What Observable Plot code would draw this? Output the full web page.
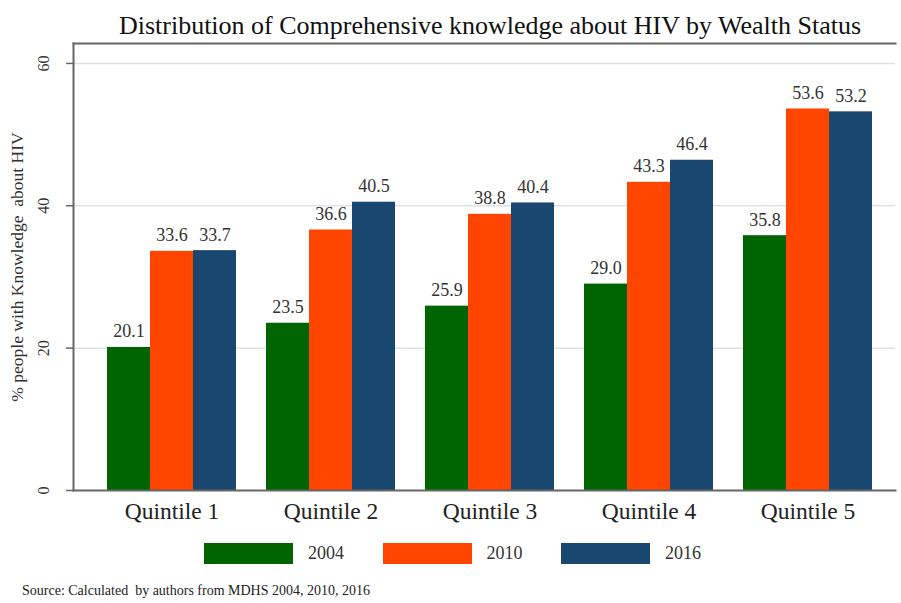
<!DOCTYPE html>
<html>
<head>
<meta charset="utf-8">
<script src="https://cdn.jsdelivr.net/npm/d3@7"></script>
<script src="https://cdn.jsdelivr.net/npm/@observablehq/plot@0.6"></script>
<style>
  html, body { margin: 0; padding: 0; background: #fff; }
  #wrap { position: relative; width: 901px; height: 603px; font-family: "Liberation Serif", "DejaVu Serif", serif; color: #111; overflow: hidden; }
  #chart { position: absolute; left: 0; top: 0; }
  #title { position: absolute; left: 79px; width: 822px; top: 13px; text-align: center; font-size: 26px; line-height: 1; white-space: nowrap; }
  #legend { position: absolute; left: 204px; top: 543px; display: flex; }
  .item { flex: 0 0 178.5px; display: flex; align-items: center; height: 21px; }
  .sw { width: 89px; height: 21px; margin-right: 15px; }
  .lab { font-size: 18px; color: #333; }
  #caption { position: absolute; left: 22px; top: 584px; font-size: 14px; line-height: 1; color: #222; white-space: nowrap; }
</style>
</head>
<body>
<div id="wrap">
  <div id="chart"></div>
  <div id="title">Distribution of Comprehensive knowledge about HIV by Wealth Status</div>
  <div id="legend"></div>
  <div id="caption">Source: Calculated&nbsp; by authors from MDHS 2004, 2010, 2016</div>
</div>
<script>
const quintiles = ["Quintile 1", "Quintile 2", "Quintile 3", "Quintile 4", "Quintile 5"];
const years = ["2004", "2010", "2016"];
const values2004 = [20.1, 23.5, 25.9, 29.0, 35.8];
const values2010 = [33.6, 36.6, 38.8, 43.3, 53.6];
const values2016 = [33.7, 40.5, 40.4, 46.4, 53.2];
const yTicks = [0, 20, 40, 60];
const colors = ["#006400", "#ff4500", "#1a476f"];

const series = [values2004, values2010, values2016];
const rows = years.flatMap((yr, j) => quintiles.map((q, i) => ({quintile: q, year: yr, value: series[j][i]})));
const barPitch = 43;

const plot = Plot.plot({
  width: 901,
  height: 535,
  marginLeft: 73,
  marginRight: 6,
  marginTop: 43,
  marginBottom: 45,
  style: {fontFamily: "'Liberation Serif', serif", overflow: "visible", background: "transparent"},
  x: {domain: quintiles, paddingInner: 0.73, paddingOuter: 0.446, align: 0.535},
  y: {domain: [0, 62.8]},
  marks: [
    Plot.gridY({ticks: yTicks.filter(t => t > 0), stroke: "#dde2e7", strokeOpacity: 1, strokeWidth: 1.5}),
    ...years.map((yr, j) => Plot.barY(rows.filter(d => d.year === yr), {
      x: "quintile", y: "value", fill: colors[j], dx: (j - 1) * barPitch
    })),
    ...years.map((yr, j) => Plot.text(rows.filter(d => d.year === yr), {
      x: "quintile", y: "value", text: d => d.value.toFixed(1), dx: (j - 1) * barPitch, dy: -10,
      lineAnchor: "bottom", fontSize: 18, fill: "#333"
    })),
    Plot.frame({anchor: "top", stroke: "#666", strokeWidth: 2}),
    Plot.frame({anchor: "left", stroke: "#666", strokeWidth: 2}),
    Plot.frame({anchor: "bottom", stroke: "#666", strokeWidth: 2}),
    Plot.axisY({ticks: yTicks, tickSize: 7, tickRotate: -90, tickPadding: 18, fontSize: 16, stroke: "#666", strokeWidth: 1.5, color: "#333",
      label: null}),
    Plot.axisY({ticks: [], tickSize: 0, fontSize: 17.5, color: "#333",
      label: "% people with Knowledge  about HIV", labelAnchor: "center", labelArrow: "none", labelOffset: 63}),
    Plot.axisX({tickSize: 0, tickPadding: 12, fontSize: 23.5, label: null, color: "#222"})
  ]
});
document.getElementById("chart").appendChild(plot);

const legend = document.getElementById("legend");
years.forEach((yr, j) => {
  const item = document.createElement("div");
  item.className = "item";
  const sw = document.createElement("div");
  sw.className = "sw";
  sw.style.background = colors[j];
  const lab = document.createElement("span");
  lab.className = "lab";
  lab.textContent = yr;
  item.appendChild(sw);
  item.appendChild(lab);
  legend.appendChild(item);
});
</script>
</body>
</html>
